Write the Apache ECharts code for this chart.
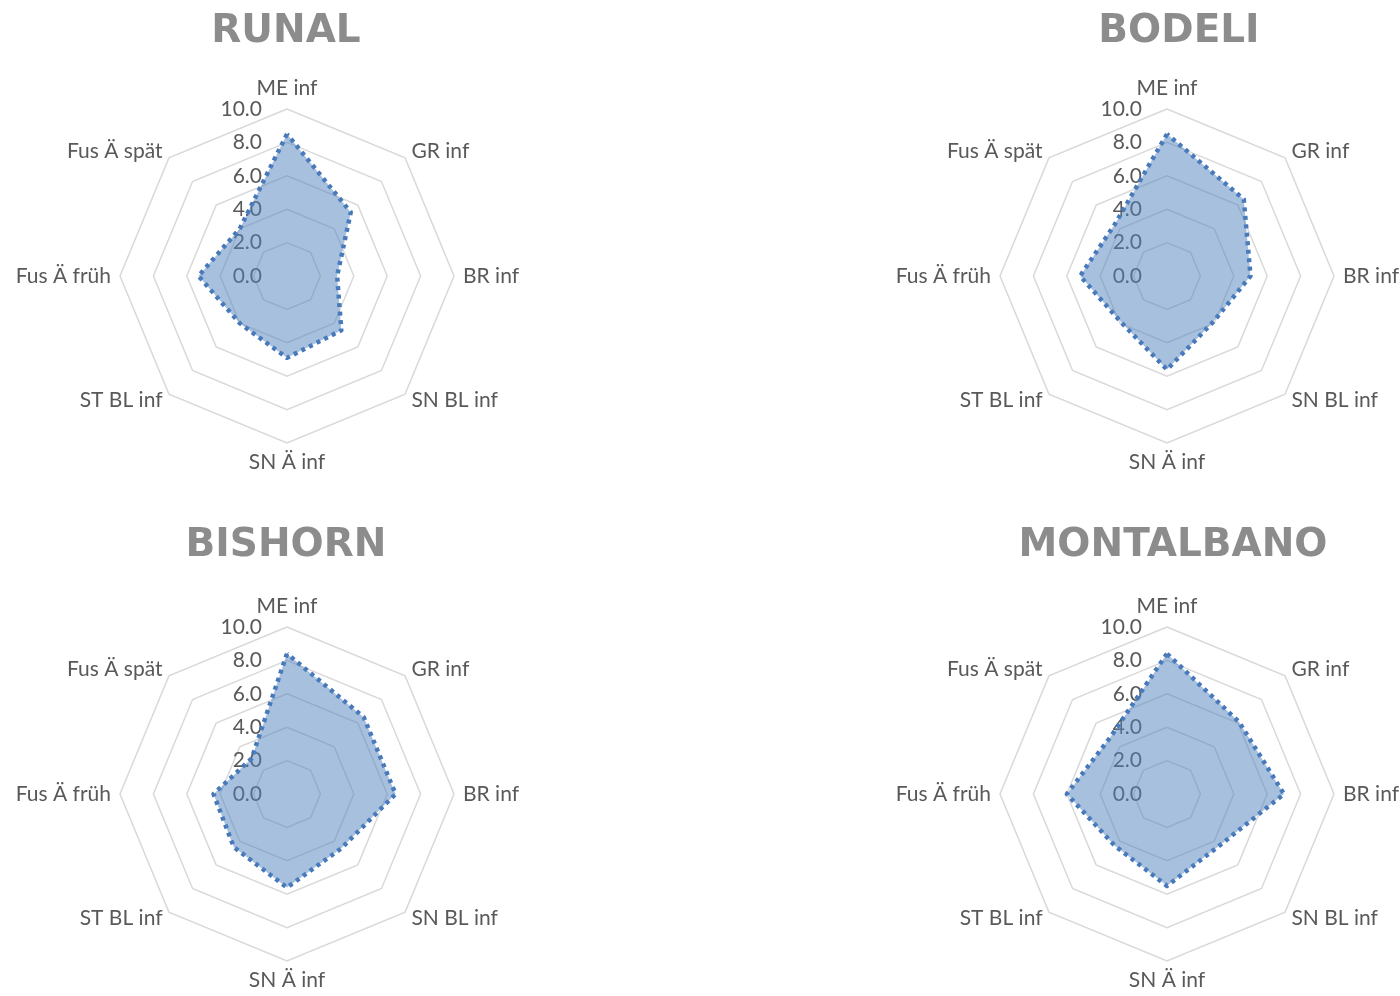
<!DOCTYPE html>
<html>
<head>
<meta charset="utf-8">
<script src="https://cdn.jsdelivr.net/npm/echarts@6/dist/echarts.min.js"></script>
<style>
  html, body { margin: 0; padding: 0; background: #fff; }
  #chart { width: 1400px; height: 996px; }
</style>
</head>
<body>
<div id="chart"></div>
<script>
// categories, clockwise from the top
var indicators = ["ME inf", "GR inf", "BR inf", "SN BL inf", "SN Ä inf", "ST BL inf", "Fus Ä früh", "Fus Ä spät"];
var varieties = ["RUNAL", "BODELI", "BISHORN", "MONTALBANO"];

var runal = [8.5, 5.4, 3.0, 4.6, 4.9, 4.0, 5.3, 4.0];
var bodeli = [8.5, 6.5, 5.0, 3.9, 5.6, 3.9, 5.2, 4.4];
var bishorn = [8.4, 6.5, 6.5, 4.6, 5.6, 4.5, 4.4, 3.0];
var montalbano = [8.4, 6.1, 7.0, 4.4, 5.5, 4.4, 6.0, 4.8];

var axisMin = 0;
var axisMax = 10;
var axisSplit = 5;

var allValues = [runal, bodeli, bishorn, montalbano];
var centers = [[287, 276], [1167, 276], [287, 794], [1167, 794]];
var titleX = [281, 1174, 281, 1168];
var titleTops = [7, 7, 521, 521];

var labelFont = "Lato";
var textGray = "#595959";

// echarts lays radar axes counter-clockwise, so keep the first one and flip the rest
var order = [0].concat(indicators.slice(1).map(function (d, k) {
  return indicators.length - 1 - k;
}));

var chart = echarts.init(document.getElementById("chart"));

var titles = [], radars = [], series = [];
varieties.forEach(function (name, i) {
  titles.push({
    text: name,
    left: titleX[i],
    top: titleTops[i],
    textAlign: "center",
    textStyle: {
      fontFamily: "DejaVu Sans",
      fontWeight: "bold",
      fontSize: 39,
      color: "#8C8C8C",
    },
  });

  radars.push({
    center: centers[i],
    radius: 167,
    startAngle: 90,
    shape: "polygon",
    splitNumber: axisSplit,
    nameGap: 9,
    axisName: {
      color: textGray,
      fontFamily: labelFont,
      fontSize: 21,
    },
    indicator: order.map(function (k) {
      var ind = { name: indicators[k], min: axisMin, max: axisMax };
      if (k === 0) {
        // value labels only along the first spoke
        ind.axisLabel = { show: true };
      }
      return ind;
    }),
    axisLine: { show: false },
    axisTick: { show: false },
    axisLabel: {
      show: false,
      margin: 25,
      color: textGray,
      fontFamily: labelFont,
      fontSize: 21,
      formatter: function (v) {
        return v.toFixed(1);
      },
    },
    splitArea: { show: false },
    splitLine: {
      lineStyle: { color: "#D9D9D9", width: 1.5 },
    },
  });

  series.push({
    type: "radar",
    radarIndex: i,
    symbol: "none",
    silent: true,
    lineStyle: {
      color: "#4677BA",
      width: 4.5,
      type: [4, 4.5],
    },
    areaStyle: {
      color: "rgba(79, 129, 189, 0.5)",
      opacity: 1,
    },
    data: [{
      name: name,
      value: order.map(function (k) { return allValues[i][k]; }),
    }],
  });
});

chart.setOption({
  animation: false,
  title: titles,
  radar: radars,
  series: series,
});
</script>
</body>
</html>
